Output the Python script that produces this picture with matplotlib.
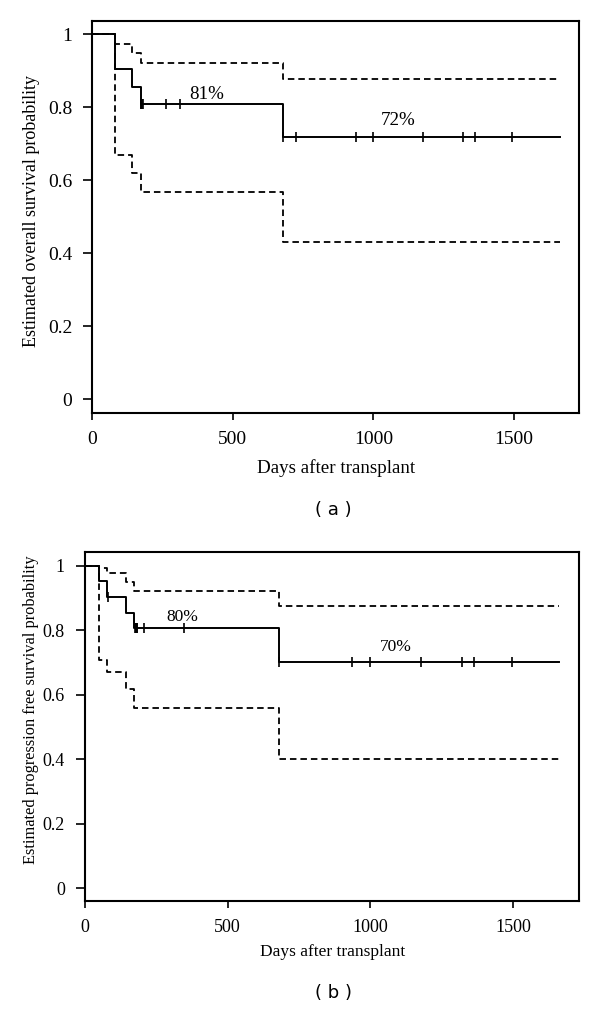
import matplotlib
matplotlib.use('Agg')
import matplotlib.pyplot as plt

# Panel (a): overall survival
os_times = [0, 81, 140, 172, 680, 1664]
os_surv = [1.0, 0.905, 0.856, 0.808, 0.719, 0.719]
os_upper = [1.0, 0.973, 0.948, 0.922, 0.877, 0.877]
os_lower = [1.0, 0.669, 0.619, 0.568, 0.430, 0.430]
os_cens_t = [173, 175, 177, 179, 262, 312, 680, 725, 937, 998, 1177, 1320, 1362, 1493]
os_cens_s = [0.808, 0.808, 0.808, 0.808, 0.808, 0.808, 0.719, 0.719, 0.719, 0.719, 0.719, 0.719, 0.719, 0.719]

# Panel (b): progression free survival
pfs_times = [0, 49, 78, 143, 172, 681, 1661]
pfs_surv = [1.0, 0.953, 0.904, 0.854, 0.806, 0.702, 0.702]
pfs_upper = [1.0, 0.993, 0.976, 0.950, 0.921, 0.875, 0.875]
pfs_lower = [1.0, 0.708, 0.671, 0.617, 0.558, 0.400, 0.400]
pfs_cens_t = [80, 175, 177, 179, 181, 183, 207, 348, 681, 934, 998, 1179, 1322, 1363, 1495]
pfs_cens_s = [0.904, 0.806, 0.806, 0.806, 0.806, 0.806, 0.806, 0.806, 0.702, 0.702, 0.702, 0.702, 0.702, 0.702, 0.702]

yticks = [0, 0.2, 0.4, 0.6, 0.8, 1]
ytick_labels = ['0', '0.2', '0.4', '0.6', '0.8', '1']
xticks = [0, 500, 1000, 1500]

plt.rcParams['font.family'] = ['Liberation Serif', 'DejaVu Serif']

fig = plt.figure(figsize=(6, 10.13), dpi=100)

panels = [
    dict(rect=[0.1538, 0.592, 0.8112, 0.3873], t=os_times, s=os_surv, up=os_upper, lo=os_lower,
         ct=os_cens_t, cs=os_cens_s, ylim=(-0.039, 1.0365),
         ylabel='Estimated overall survival probability', ylab_pos=(-0.124, 0.516),
         xlab_y=-0.139, fs=14, lfs=13, notes=[(407, 0.834, '81%'), (1088, 0.765, '72%')],
         tag='( a )', tag_y=0.4965),
    dict(rect=[0.1417, 0.1106, 0.8238, 0.3442], t=pfs_times, s=pfs_surv, up=pfs_upper, lo=pfs_lower,
         ct=pfs_cens_t, cs=pfs_cens_s, ylim=(-0.039, 1.0415),
         ylabel='Estimated progression free survival probability', ylab_pos=(-0.109, 0.55),
         xlab_y=-0.146, fs=13, lfs=11.8, notes=[(342, 0.842, '80%'), (1088, 0.749, '70%')],
         tag='( b )', tag_y=0.0197),
]

for p in panels:
    ax = fig.add_axes(p['rect'])
    ax.step(p['t'], p['s'], where='post', color='black', lw=1.4)
    ax.step(p['t'], p['up'], where='post', color='black', lw=1.3, linestyle=(0, (3.6, 2.2)))
    ax.step(p['t'], p['lo'], where='post', color='black', lw=1.3, linestyle=(0, (3.6, 2.2)))
    ax.plot(p['ct'], p['cs'], linestyle='none', marker='|', markersize=7, markeredgewidth=1.2, color='black')
    for x, y, txt in p['notes']:
        ax.text(x, y, txt, ha='center', va='center', fontsize=p['lfs'] + 0.7)

    ax.set_xlim(0, 1732)
    ax.set_ylim(*p['ylim'])
    ax.set_xticks(xticks)
    ax.set_yticks(yticks)
    ax.set_yticklabels(ytick_labels)
    ax.tick_params(axis='y', direction='out', length=6.5, width=1.2, pad=8, labelsize=p['fs'])
    ax.tick_params(axis='x', direction='out', length=5, width=1.2, pad=8, labelsize=p['fs'])
    for sp in ax.spines.values():
        sp.set_linewidth(1.5)

    ax.set_ylabel(p['ylabel'], fontsize=p['lfs'], va='center')
    ax.yaxis.set_label_coords(*p['ylab_pos'])
    ax.set_xlabel('Days after transplant', fontsize=p['lfs'] + 0.7, va='center')
    ax.xaxis.set_label_coords(0.5, p['xlab_y'])

    fig.text(0.555, p['tag_y'], p['tag'], ha='center', va='center', fontsize=13,
             family='DejaVu Sans')

fig.savefig('out.png', dpi=100)
